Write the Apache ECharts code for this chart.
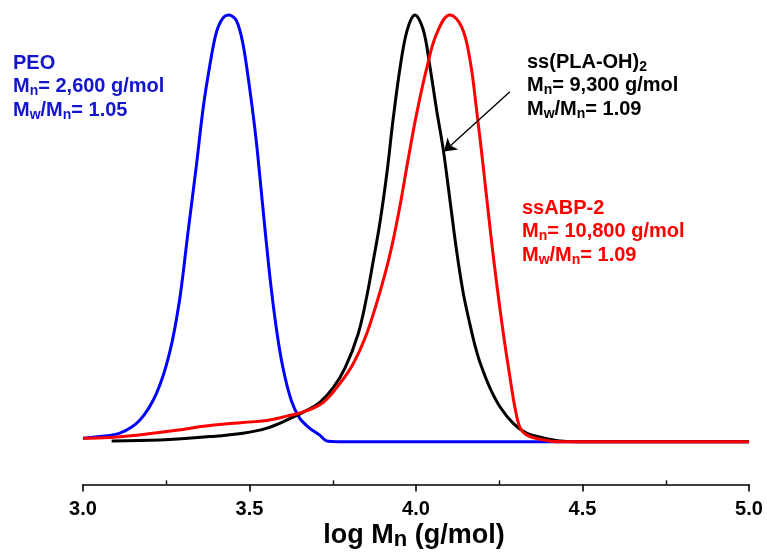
<!DOCTYPE html>
<html>
<head>
<meta charset="utf-8">
<script src="https://cdn.jsdelivr.net/npm/echarts@6/dist/echarts.min.js"></script>
<style>html,body{margin:0;padding:0;background:#fff}#c{width:767px;height:558px}</style>
</head>
<body>
<div id="c"></div>
<script>
// ---- data (log M, normalized signal %) ----
const peoX = [3.000,3.051,3.111,3.171,3.221,3.260,3.290,3.315,3.340,3.360,3.380,3.400,3.420,3.438,3.460,3.480,3.500,3.520,3.540,3.560,3.580,3.600,3.625,3.650,3.680,3.710,3.731,3.770,4.000,4.500,5.000];
const peoY = [0.8,1.2,2.0,5.1,11.4,20.8,33.2,48.9,64.4,77.7,87.8,95.8,99.3,100,98.8,93.4,83.1,70.7,55.0,39.5,26.9,17.5,9.8,5.6,3.2,1.6,0.2,0,0,0,0];

const plaX = [3.086,3.231,3.381,3.480,3.553,3.613,3.673,3.712,3.751,3.787,3.826,3.850,3.871,3.892,3.913,3.931,3.952,3.973,3.997,4.022,4.042,4.062,4.082,4.102,4.122,4.142,4.162,4.177,4.192,4.222,4.252,4.292,4.332,4.382,4.432,4.492,5.000];
const plaY = [0.2,0.4,1.2,2.0,3.2,5.1,7.4,9.3,12.6,17.3,25.2,33.2,42.1,51.5,63.2,75.4,87.6,96.3,100,96.5,87.8,77.7,68.4,56.6,44.7,34.8,27.5,22.6,18.6,12.6,8.2,4.3,2.0,0.9,0.2,0,0];

const abpX = [3.000,3.081,3.181,3.281,3.381,3.481,3.552,3.612,3.662,3.721,3.772,3.811,3.847,3.880,3.910,3.934,3.955,3.976,4.003,4.033,4.063,4.102,4.137,4.162,4.182,4.202,4.222,4.242,4.262,4.282,4.297,4.312,4.332,4.372,4.432,5.000];
const abpY = [0.8,1.0,1.7,2.7,3.8,4.5,5.0,6.0,7.0,9.2,13.7,18.2,24.3,32.0,40.2,48.2,56.6,66.0,77.3,87.8,95.8,100,97.2,89.5,77.7,64.4,50.3,37.2,25.5,15.2,8.1,3.4,1.6,0.6,0,0];

// arrow annotation (data coords): from text to black curve
const arrowFrom = [4.282, 82.0];
const arrowTo = [4.084, 68.0];

const xMin = 3.0, xMax = 5.0, xStep = 0.5;
const minorMin = 3.25, minorMax = 4.75;

const peoText = ['PEO', '2,600 g/mol', '1.05'];
const plaText = ['ss(PLA-OH)', '9,300 g/mol', '1.09'];
const abpText = ['ssABP-2', '10,800 g/mol', '1.09'];

const toPairs = (xs, ys) => xs.map((x, i) => [x, ys[i]]);

const FONT = '"Liberation Sans", Arial, sans-serif';

function richBlock(color, size) {
  return {
    a: { fontSize: size, fontWeight: 'bold', fontFamily: FONT, fill: color, lineHeight: 23.5 },
    s: { fontSize: 14, fontWeight: 'bold', fontFamily: FONT, fill: color, lineHeight: 23.5, verticalAlign: 'bottom', height: 14 }
  };
}
function block(t, titleSub) {
  const first = titleSub ? '{a|' + t[0] + '}{s|' + titleSub + '}' : '{a|' + t[0] + '}';
  return first + '\n{a|M}{s|n}{a|= ' + t[1] + '}\n{a|M}{s|w}{a|/M}{s|n}{a|= ' + t[2] + '}';
}

const chart = echarts.init(document.getElementById('c'), null, { renderer: 'canvas' });

const gridTop = 6.5, gridBottom = 73.6;

chart.setOption({
  animation: false,
  backgroundColor: '#ffffff',
  grid: [
    { left: 83, right: 18, top: gridTop, bottom: gridBottom },
    { left: 166.25, right: 101.25, top: gridTop, bottom: gridBottom }
  ],
  xAxis: [
    {
      type: 'value', gridIndex: 0, min: xMin, max: xMax, interval: xStep,
      axisLine: { show: true, onZero: false, lineStyle: { color: '#000', width: 1.6 } },
      axisTick: { show: true, inside: false, length: 7, lineStyle: { color: '#000', width: 1.6 } },
      splitLine: { show: false },
      axisLabel: {
        color: '#000', fontSize: 20, fontWeight: 'bold', fontFamily: FONT, margin: 15,
        formatter: v => v.toFixed(1)
      }
    },
    {
      type: 'value', gridIndex: 1, min: minorMin, max: minorMax, interval: xStep,
      axisLine: { show: false, onZero: false },
      axisTick: { show: true, inside: true, length: 4, lineStyle: { color: '#000', width: 1.4 } },
      splitLine: { show: false },
      axisLabel: { show: false }
    }
  ],
  yAxis: [
    { type: 'value', gridIndex: 0, min: -10, max: 102, show: false },
    { type: 'value', gridIndex: 1, min: -10, max: 102, show: false }
  ],
  series: [
    {
      name: 'PEO', type: 'line', data: toPairs(peoX, peoY), smooth: 0.3, showSymbol: false, clip: false,
      lineStyle: { color: '#0000ff', width: 3 }, itemStyle: { color: '#0000ff' }, z: 2
    },
    {
      name: 'ss(PLA-OH)2', type: 'line', data: toPairs(plaX, plaY), smooth: 0.35, showSymbol: false, clip: false,
      lineStyle: { color: '#000000', width: 3 }, itemStyle: { color: '#000' }, z: 3,
      markLine: {
        silent: true, animation: false,
        symbol: ['none', 'arrow'], symbolSize: 12,
        label: { show: false },
        emphasis: { disabled: true },
        lineStyle: { color: '#000', width: 1.4, type: 'solid' },
        itemStyle: { color: '#000' },
        data: [[{ coord: arrowFrom }, { coord: arrowTo }]]
      }
    },
    {
      name: 'ssABP-2', type: 'line', data: toPairs(abpX, abpY), smooth: 0.4, showSymbol: false, clip: false,
      lineStyle: { color: '#ff0000', width: 3 }, itemStyle: { color: '#f00' }, z: 4
    }
  ],
  graphic: [
    {
      type: 'text', left: 13, top: 53,
      style: { text: block(peoText), rich: richBlock('#1414cc', 20) }
    },
    {
      type: 'text', left: 527, top: 52,
      style: { text: block(plaText, '2'), rich: richBlock('#000000', 20) }
    },
    {
      type: 'text', left: 522, top: 198,
      style: { text: block(abpText), rich: richBlock('#ff0000', 20) }
    },
    {
      type: 'text', x: 414, y: 536,
      style: {
        text: '{a|log M}{s|n}{a| (g/mol)}',
        align: 'center', verticalAlign: 'middle',
        rich: {
          a: { fontSize: 27, fontWeight: 'bold', fontFamily: FONT, fill: '#000', lineHeight: 30 },
          s: { fontSize: 22, fontWeight: 'bold', fontFamily: FONT, fill: '#000', lineHeight: 30, verticalAlign: 'bottom', height: 22 }
        }
      }
    }
  ]
});
</script>
</body>
</html>
